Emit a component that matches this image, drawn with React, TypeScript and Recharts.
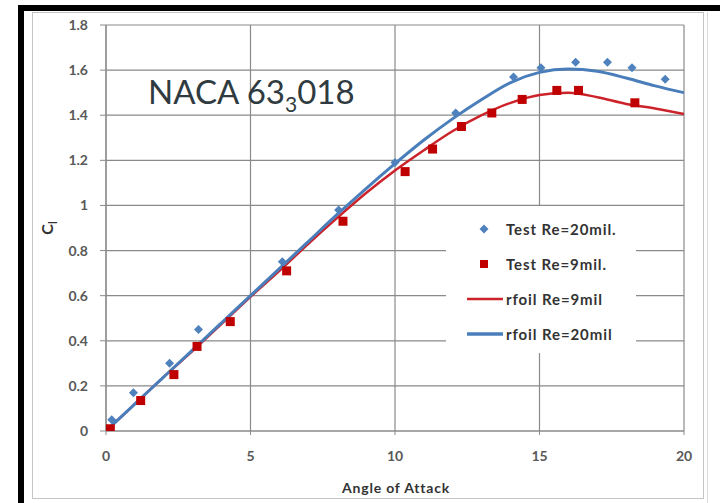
import React from 'react';
import { ComposedChart, Line, Scatter, XAxis, YAxis, CartesianGrid, Legend } from 'recharts';

// Test data (markers)
const testRe20X = [0.2, 0.95, 2.2, 3.2, 6.1, 8.05, 10.0, 12.1, 14.1, 15.05, 16.25, 17.35, 18.2, 19.35];
const testRe20Y = [0.05, 0.17, 0.30, 0.45, 0.75, 0.98, 1.19, 1.41, 1.57, 1.61, 1.635, 1.635, 1.61, 1.56];
const testRe9X = [0.15, 1.2, 2.35, 3.15, 4.3, 6.25, 8.2, 10.35, 11.3, 12.3, 13.35, 14.4, 15.6, 16.35, 18.3];
const testRe9Y = [0.01, 0.135, 0.25, 0.375, 0.485, 0.71, 0.93, 1.15, 1.25, 1.35, 1.41, 1.47, 1.51, 1.51, 1.455];

// rfoil simulations (lines)
const rfoilX = [0, 1, 2, 3, 4, 5, 6, 7, 8, 9, 10, 11, 12, 13, 14, 15, 16, 17, 18, 19, 20];
const rfoilRe20Y = [0, 0.12, 0.24, 0.36, 0.48, 0.6, 0.72, 0.84, 0.96, 1.075, 1.185, 1.29, 1.385, 1.47, 1.545, 1.59, 1.605, 1.595, 1.565, 1.53, 1.5];
const rfoilRe9Y = [0, 0.12, 0.24, 0.355, 0.475, 0.595, 0.71, 0.83, 0.945, 1.055, 1.155, 1.245, 1.33, 1.4, 1.455, 1.49, 1.5, 1.48, 1.45, 1.43, 1.405];

const xTicks = [0, 5, 10, 15, 20];
const yTicks = [0, 0.2, 0.4, 0.6, 0.8, 1, 1.2, 1.4, 1.6, 1.8];

const seriesNames = ['Test Re=20mil.', 'Test Re=9mil.', 'rfoil Re=9mil', 'rfoil Re=20mil'];

const BLUE = '#4f81bd';
const BLUE_LINE = '#4a7ebb';
const RED = '#c00000';
const RED_LINE = '#cc2229';
const GRID = '#8a8a8a';
const FONT = 'Lato, "Open Sans", sans-serif';

const zip = (xs: number[], ys: number[]) => xs.map((x, i) => ({ x, y: ys[i] }));
const testRe20 = zip(testRe20X, testRe20Y);
const testRe9 = zip(testRe9X, testRe9Y);
const rfoilRe20 = zip(rfoilX, rfoilRe20Y);
const rfoilRe9 = zip(rfoilX, rfoilRe9Y);

const DiamondShape = (props: any) => {
  const { cx, cy } = props;
  const r = 4.5;
  return <polygon points={`${cx},${cy - r} ${cx + r},${cy} ${cx},${cy + r} ${cx - r},${cy}`} fill={BLUE} />;
};
const SquareShape = (props: any) => {
  const { cx, cy } = props;
  const s = 9;
  return <rect x={cx - s / 2} y={cy - s / 2} width={s} height={s} fill={RED} />;
};

const legendMarks: Record<string, React.ReactNode> = {
  'Test Re=20mil.': (
    <svg width={40} height={12}><polygon points="18,1.5 22.5,6 18,10.5 13.5,6" fill={BLUE} /></svg>
  ),
  'Test Re=9mil.': (
    <svg width={40} height={12}><rect x={14} y={2} width={8} height={8} fill={RED} /></svg>
  ),
  'rfoil Re=9mil': (
    <svg width={40} height={12}><line x1={1} y1={6} x2={37} y2={6} stroke={RED_LINE} strokeWidth={2.5} /></svg>
  ),
  'rfoil Re=20mil': (
    <svg width={40} height={12}><line x1={1} y1={6} x2={37} y2={6} stroke={BLUE_LINE} strokeWidth={3.5} /></svg>
  ),
};

const LegendContent = () => (
  <div style={{ background: '#fff', width: 190, height: 147, boxSizing: 'border-box', paddingTop: 5 }}>
    {seriesNames.map((n) => (
      <div key={n} style={{ display: 'flex', alignItems: 'center', height: 35, paddingLeft: 20 }}>
        {legendMarks[n]}
        <span style={{ fontFamily: FONT, fontWeight: 700, fontSize: 15, letterSpacing: 0.9, color: '#333' }}>{n}</span>
      </div>
    ))}
  </div>
);

export default function App() {
  return (
    <div style={{ position: 'relative', width: 720, height: 503, background: '#fff', overflow: 'hidden' }}>
      <style>{`body{margin:0}`}</style>
      {/* frame */}
      <div style={{ position: 'absolute', left: 18, top: 5, width: 702, height: 6, background: '#000' }} />
      <div style={{ position: 'absolute', left: 18, top: 5, width: 6, height: 498, background: '#000' }} />
      <div style={{ position: 'absolute', left: 32, top: 12, width: 672, height: 487, border: '1.5px solid #c4c4c4', boxSizing: 'border-box' }} />
      <div style={{ position: 'absolute', left: 707, top: 12, width: 1, height: 491, background: '#dadada' }} />
      <ComposedChart
        width={720}
        height={503}
        margin={{ top: 25, right: 36, left: 46, bottom: 42 }}
        style={{ position: 'absolute', left: 0, top: 0 }}
      >
        <CartesianGrid stroke={GRID} strokeWidth={1.2} />
        <XAxis
          dataKey="x"
          type="number"
          domain={[0, 20]}
          ticks={xTicks}
          allowDataOverflow
          height={30}
          tickSize={4}
          tickMargin={16}
          axisLine={{ stroke: GRID, strokeWidth: 1.2 }}
          tickLine={{ stroke: GRID }}
          tick={{ fill: '#595959', fontFamily: FONT, fontSize: 14, fontWeight: 700 }}
        />
        <YAxis
          dataKey="y"
          type="number"
          domain={[0, 1.8]}
          ticks={yTicks}
          allowDataOverflow
          width={60}
          tickSize={6}
          tickMargin={12}
          axisLine={{ stroke: GRID, strokeWidth: 1.2 }}
          tickLine={{ stroke: GRID }}
          tick={{ fill: '#595959', fontFamily: FONT, fontSize: 14, fontWeight: 700 }}
        />
        <Legend
          layout="vertical"
          align="center"
          verticalAlign="middle"
          wrapperStyle={{ left: 446, top: 206, width: 190, height: 147 }}
          content={() => <LegendContent />}
        />
        <Line data={rfoilRe9} dataKey="y" name={seriesNames[2]} type="monotone" stroke={RED_LINE} strokeWidth={2.5} dot={false} isAnimationActive={false} />
        <Line data={rfoilRe20} dataKey="y" name={seriesNames[3]} type="monotone" stroke={BLUE_LINE} strokeWidth={3} dot={false} isAnimationActive={false} />
        <Scatter data={testRe9} dataKey="y" name={seriesNames[1]} shape={<SquareShape />} isAnimationActive={false} />
        <Scatter data={testRe20} dataKey="y" name={seriesNames[0]} shape={<DiamondShape />} isAnimationActive={false} />
      </ComposedChart>
      {/* title */}
      <div style={{ position: 'absolute', left: 148, top: 72, fontFamily: FONT, fontSize: 33, lineHeight: 1.2, color: '#2f3b40', whiteSpace: 'nowrap' }}>
        NACA 63<span style={{ fontSize: 21, position: 'relative', top: 8 }}>3</span>018
      </div>
      {/* y-axis label */}
      <div style={{ position: 'absolute', left: 47, top: 228, transform: 'translate(-50%,-50%) rotate(-90deg)', fontFamily: FONT, fontWeight: 700, fontSize: 16, color: '#333', whiteSpace: 'nowrap', lineHeight: 1 }}>
        C<span style={{ fontSize: 11, position: 'relative', top: 4 }}>l</span>
      </div>
      {/* x-axis label */}
      <div style={{ position: 'absolute', left: 396, top: 487, transform: 'translate(-50%,-50%)', fontFamily: FONT, fontWeight: 700, fontSize: 14, letterSpacing: 0.8, color: '#333', whiteSpace: 'nowrap' }}>
        Angle of Attack
      </div>
    </div>
  );
}
